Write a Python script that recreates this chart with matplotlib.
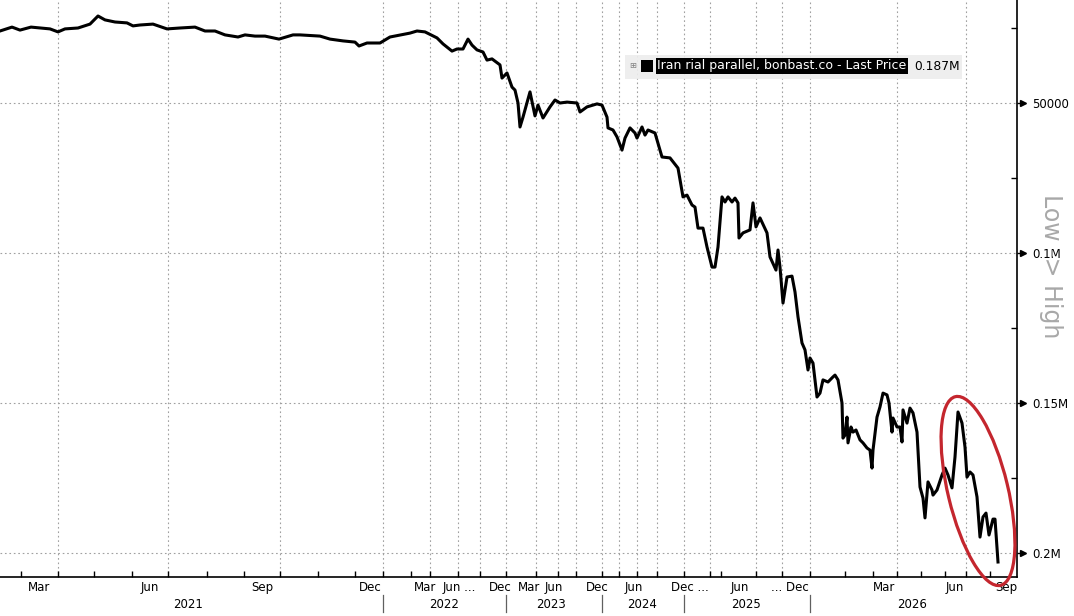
import matplotlib
matplotlib.use("Agg")
import matplotlib.pyplot as plt
import matplotlib.transforms as mtransforms
from matplotlib.patches import Ellipse, Rectangle

# Iran rial parallel rate (bonbast.co).
# obs = position along the (irregular) Bloomberg time axis
obs = [0, 12, 20, 31, 50, 58, 65, 78, 90, 98, 105, 115, 127, 133, 140, 153,
       167, 180, 195, 205, 215, 225, 238, 245, 255, 265, 279, 293, 300, 320,
       330, 343, 355, 359, 367, 380, 390, 410, 417, 425, 437, 443, 452, 457,
       463, 468, 472, 477, 483, 487, 492, 500, 502, 507, 512, 515, 518, 520,
       523, 530, 535, 538, 543, 550, 555, 560, 567, 577, 580, 587, 597, 602,
       607, 608, 613, 617, 622, 625, 630, 635, 637, 642, 645, 648, 655, 662,
       670, 678, 683, 687, 692, 695, 698, 703, 707, 712, 715, 718, 722, 725,
       728, 732, 735, 738, 739, 743, 750, 753, 756, 760, 767, 770, 776, 778,
       780, 783, 787, 792, 795, 798, 802, 805, 808, 810, 813, 817, 820, 823,
       828, 833, 835, 838, 842, 843, 845, 847, 848, 851, 853, 856, 860, 863,
       867, 870, 872, 873, 877, 880, 883, 887, 889, 892, 893, 897, 900, 902,
       903, 907, 910, 913, 917, 920, 923, 925, 928, 932, 933, 937, 942, 945,
       948, 952, 955, 958, 962, 965, 967, 970, 973, 977, 980, 983, 986, 989,
       993, 995, 998]
rate = [26000, 24700, 25700, 24700, 25300, 26300, 25300, 25000, 23700, 21000,
        22300, 23000, 23300, 24300, 24000, 23700, 25300, 25000, 24700, 26000,
        26000, 27300, 28000, 27300, 27700, 27700, 28700, 27300, 27300, 27700,
        28700, 29300, 29700, 31000, 30000, 30000, 28000, 26700, 26000, 26300,
        28300, 30300, 32700, 32000, 32000, 28700, 30700, 32300, 33000, 35700,
        35300, 37300, 41700, 40000, 44700, 45700, 50000, 58000, 54700, 46300,
        54300, 50700, 55000, 51300, 49000, 50000, 49700, 50000, 53000, 51300,
        50300, 50700, 54700, 58300, 59000, 61300, 65700, 61700, 58300, 60000,
        61700, 58000, 60700, 59000, 60000, 68000, 68300, 71700, 81300, 80700,
        84000, 84700, 91700, 91700, 98000, 104700, 104700, 98000, 81300, 83000,
        81300, 83000, 81700, 83300, 95000, 93300, 92300, 83300, 91300, 88300,
        93300, 101300, 105700, 99000, 104700, 116700, 108000, 107700, 113000,
        121300, 130000, 132300, 139000, 135000, 136700, 148000, 146700, 142300,
        143000, 141300, 140700, 142300, 150000, 161700, 160700, 154700, 163300,
        158000, 159700, 159000, 162300, 163300, 165000, 165700, 171700, 165700,
        154700, 151300, 146700, 147300, 150000, 159700, 155000, 158000, 158000,
        163000, 152300, 156700, 151700, 153300, 159700, 178000, 181700, 188300,
        176300, 179000, 180700, 179000, 174000, 171700, 174000, 178300, 168000,
        153000, 156700, 164700, 174700, 173000, 174000, 181300, 194700, 188000,
        186700, 194000, 188700, 188700, 203000]

y_ticks = [50000, 100000, 150000, 200000]
y_tick_labels = ["50000", "0.1M", "0.15M", "0.2M"]
y_minor = [25000, 75000, 125000, 175000]

# axis positions of gridlines, month ticks and labels
grid_x = [58, 168, 280, 383, 430, 458, 480, 506, 536, 558, 576, 602, 619,
          637, 657, 684, 710, 756, 782, 810, 897, 966]
month_ticks = [21, 94, 132, 207, 244, 318, 355, 411, 721, 845, 873, 921, 945, 990]
month_labels = ["Mar", "Jun", "Sep", "Dec", "Mar", "Jun ...", "Dec", "Mar",
                "Jun", "Dec", "Jun", "Dec ...", "Jun", "... Dec", "Mar", "Jun", "Sep"]
month_label_x = [39, 150, 262, 370, 425, 459, 500, 529, 554, 597, 634, 690,
                 740, 790, 884, 955, 1006]
years = ["2021", "2022", "2023", "2024", "2025", "2026"]
year_x = [188, 444, 551, 642, 746, 912]
year_breaks = [383, 506, 602, 684, 810]

fig = plt.figure(figsize=(10.74, 6.16), dpi=100)
ax = fig.add_axes([0, 1 - 577 / 616, 1017 / 1074, 577 / 616])

ax.plot(obs, rate, color="black", lw=2.2, solid_joinstyle="round", zorder=3)

ax.set_xlim(0, 1017)
ax.set_ylim(208000, 15667)

for s in ["left", "top"]:
    ax.spines[s].set_visible(False)
for s in ["right", "bottom"]:
    ax.spines[s].set_color("black")
    ax.spines[s].set_linewidth(1.2)

# y axis on the right
ax.yaxis.tick_right()
ax.set_yticks(y_ticks)
ax.set_yticklabels(y_tick_labels)
ax.set_yticks(y_minor, minor=True)
ax.tick_params(axis="y", which="major", direction="out", length=6, width=1,
               pad=5, labelsize=8.5, colors="black")
ax.tick_params(axis="y", which="minor", direction="in", length=4, width=1)
btrans = mtransforms.blended_transform_factory(ax.transAxes, ax.transData)
ax.plot([1.0055] * len(y_ticks), y_ticks, ls="none", marker=">", ms=5,
        color="black", transform=btrans, clip_on=False)

# x axis
ax.set_xticks(grid_x)
ax.set_xticks(month_ticks, minor=True)
ax.tick_params(axis="x", which="both", direction="in", length=4, width=1,
               labelbottom=False)

ax.grid(True, which="major", color="#a0a0a0", lw=0.8, ls=(0, (1.5, 2.5)))

xtrans = mtransforms.blended_transform_factory(ax.transData, ax.transAxes)
for lab, x in zip(month_labels, month_label_x):
    ax.text(x, -0.019, lab, transform=xtrans, ha="center", va="center",
            fontsize=8.5, clip_on=False)
for lab, x in zip(years, year_x):
    ax.text(x, -0.047, lab, transform=xtrans, ha="center", va="center",
            fontsize=8.5, clip_on=False)
for x in year_breaks:
    ax.plot([x, x], [-0.031, -0.061], color="#606060", lw=0.9,
            transform=xtrans, clip_on=False)

# axis title
fig.text(1051 / 1074, 1 - 266 / 616, "Low -> High", rotation=270,
         color="#a8a8a8", fontsize=17, ha="center", va="center")

# legend
fig.add_artist(Rectangle((625 / 1074, 1 - 79 / 616), 337 / 1074, 24 / 616,
                         transform=fig.transFigure, fc="#ededed", ec="none",
                         alpha=0.9, zorder=5))
fig.add_artist(Rectangle((641 / 1074, 1 - 72 / 616), 12 / 1074, 12 / 616,
                         transform=fig.transFigure, fc="black", ec="none",
                         zorder=6))
fig.text(633 / 1074, 1 - 66 / 616, "\u229e", fontsize=6, color="#808080",
         ha="center", va="center", zorder=6)
fig.text(657 / 1074, 1 - 66 / 616, "Iran rial parallel, bonbast.co - Last Price",
         fontsize=9, color="white", ha="left", va="center", zorder=7,
         bbox=dict(boxstyle="square,pad=0.12", fc="black", ec="none"))
fig.text(914 / 1074, 1 - 66 / 616, "0.187M", fontsize=8.8, color="black",
         ha="left", va="center", zorder=7)

# hand-drawn highlight
fig.add_artist(Ellipse((9.78, (616 - 491) / 100), width=0.6, height=1.94,
                       angle=13.5, transform=fig.dpi_scale_trans, fill=False,
                       ec="#c4262e", lw=2.3, zorder=8))

fig.savefig("out.png", dpi=100)
